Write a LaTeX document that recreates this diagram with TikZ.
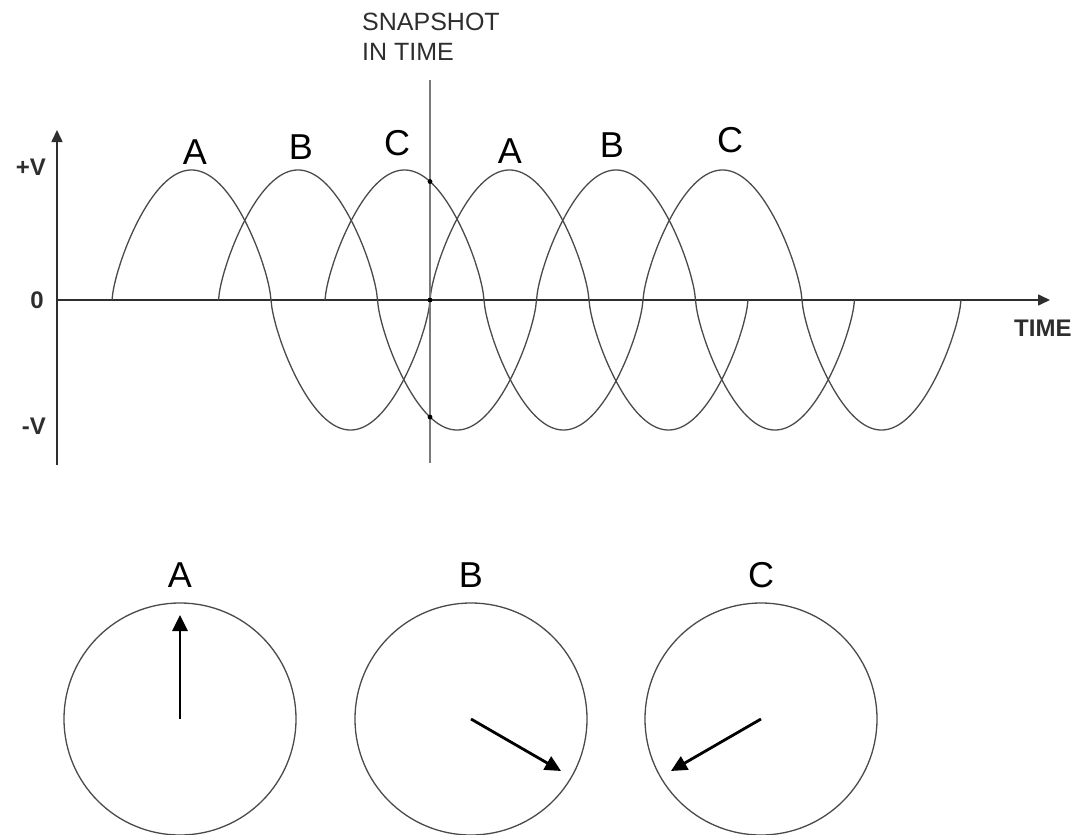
\documentclass[tikz,border=0pt]{standalone}
\usepackage{fontspec}
\setmainfont{Liberation Sans}
\usepackage{tikz}
\usetikzlibrary{arrows.meta, positioning, calc}
\usepackage{xcolor}
\definecolor{wavegray}{HTML}{4A4A4A}
\definecolor{axisgray}{HTML}{2E2E2E}
\definecolor{snapgray}{HTML}{7A7A7A}

\begin{document}
\begin{tikzpicture}[x=1pt, y=-1pt,
    declare function={wave(\t)=130*sin(\t)*pow(abs(sin(\t))+0.0001,-0.3);},
    sinewave/.style={draw=wavegray, line width=1.3pt},
    axisline/.style={draw=axisgray, line width=1.6pt, -{Triangle[length=12pt, width=11pt]}},
    snapline/.style={draw=snapgray, line width=2pt},
    dial/.style={draw=wavegray, line width=1.3pt},
    phasor/.style={draw=black, line width=2.8pt, -{Triangle[length=16pt, width=15pt]}},
    phaselabel/.style={font=\fontsize{36}{40}\selectfont, anchor=base, inner sep=0pt},
    axislabel/.style={font=\bfseries\fontsize{24}{28}\selectfont, text=axisgray, inner sep=0pt}]
      \useasboundingbox (0,0) rectangle (1080,835);
      % axes
      \coordinate (origin) at (57,300);
      \coordinate (ytop) at (57,130);
      \coordinate (ybot) at (57,465);
      \coordinate (xend) at (1050,300);
      \draw[axisline] (ybot) -- (ytop);
      \draw[axisline] (origin) -- (xend);
      \node[axislabel, anchor=east] (plusv) at (46,167) {+V};
      \node[axislabel, anchor=east] (zero) at (44,300) {0};
      \node[axislabel, anchor=east] (minusv) at (46,426) {-V};
      \node[axislabel, anchor=west] (timelbl) at (1014,328) {TIME};
      % three phases, two cycles each
      \foreach \s in {112, 218.5, 325}{
        \draw[sinewave, line join=round] plot[domain=0:720, samples=721] ({\s+\x/360*318}, {300-wave(\x)});
      }
      \foreach \n/\l/\x/\y in {A1/A/195/164, B1/B/301/159, C1/C/397/155, A2/A/510/163, B2/B/612/157, C2/C/730/152}{
        \node[phaselabel] (top\n) at (\x,\y) {\l};
      }
      % snapshot
      \coordinate (snaptop) at (430,80);
      \coordinate (snapbot) at (430,463);
      \draw[snapline] (snaptop) -- (snapbot);
      \node[anchor=north west, align=left, inner sep=0pt, text=axisgray,
            font=\fontsize{25}{30}\selectfont] (snapshot) at (362,13) {SNAPSHOT\\IN TIME};
      \foreach \s in {112, 218.5, 325}{
        \fill ({430}, {300-wave((430-\s)/318*360)}) circle (2.4pt);
      }
      % phasors
      \foreach \n/\cx/\ang in {A/180/90, B/471/-30, C/761/210}{
        \coordinate (o\n) at (\cx,719);
        \draw[dial] (o\n) circle (116pt);
        \coordinate (tip\n) at ($(o\n)+(\ang:104pt)$);
        \draw[phasor] (o\n) -- (tip\n);
        \node[phaselabel] (lbl\n) at (\cx,587) {\n};
      }
    \end{tikzpicture}
\end{document}
